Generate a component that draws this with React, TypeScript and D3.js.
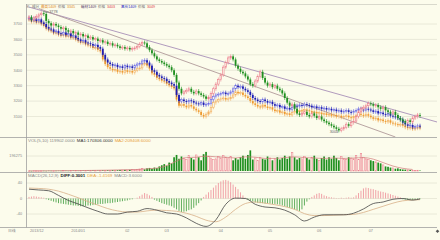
import React from "react";
import * as d3 from "d3";

const N = 160;
const MONTH_TICKS: [number, string][] = [[0, "2013/12"], [20, "2014/01"], [40, "02"], [56, "03"], [78, "04"], [98, "05"], [118, "06"], [139, "07"]];
const PRICE_TICKS = [3700, 3600, 3500, 3400, 3300, 3200, 3100];
const VOL_TICK = 196.275; // thousands
const MACD_TICKS = [40, 0, -40];

// upper series (pink / green candles)
const closeA = [
  3745, 3730, 3740, 3750, 3760, 3770, 3765, 3720, 3705, 3690, 3700,
  3690, 3680, 3670, 3675, 3660, 3650, 3655, 3640, 3645,
  3630, 3635, 3620, 3625, 3610, 3615, 3600, 3605, 3590, 3595,
  3580, 3585, 3570, 3575, 3560, 3565,
  3555, 3545, 3550, 3540, 3545, 3535, 3540, 3545, 3555, 3570,
  3580, 3575, 3550, 3530, 3510, 3490, 3470, 3460, 3450, 3440, 3430, 3420,
  3400, 3370, 3320, 3280, 3250, 3260,
  3270, 3280, 3260, 3250, 3265, 3250, 3240, 3230, 3215, 3225,
  3250, 3280, 3310, 3340, 3370, 3420, 3450, 3480, 3490, 3470,
  3430, 3410, 3390, 3380, 3360, 3340, 3310, 3300, 3330, 3360, 3390, 3350, 3320, 3300,
  3310, 3290, 3300, 3280, 3270, 3250, 3220, 3190, 3170, 3180, 3150, 3120, 3110,
  3120, 3130, 3110, 3100, 3120, 3105, 3090, 3100, 3080, 3070, 3060, 3050,
  3040, 3030, 3020, 3010, 3020, 3030, 3050, 3040, 3060, 3070,
  3100, 3130, 3150, 3160, 3170, 3185, 3180, 3170, 3175, 3160,
  3150, 3160, 3140, 3130, 3120, 3130, 3110, 3090, 3080,
  3070, 3060, 3075, 3065, 3090, 3100, 3110, 3105,
];
// blue series
const closeB = [
  3740, 3725, 3735, 3720, 3730, 3710, 3700,
  3680, 3670, 3665, 3650, 3655, 3640, 3635,
  3645, 3630, 3640, 3620, 3625, 3610,
  3600, 3590, 3595, 3580, 3575, 3570, 3560, 3565, 3550, 3540,
  3500, 3470, 3450,
  3440, 3430, 3435, 3420, 3425, 3415, 3430, 3420, 3425, 3415, 3430, 3440, 3445,
  3460, 3465, 3450, 3430,
  3400, 3390, 3370, 3360, 3350, 3345,
  3330, 3320, 3310, 3300, 3240, 3200,
  3210, 3200, 3195, 3205, 3200, 3190,
  3185, 3180, 3190, 3175, 3180, 3185,
  3210, 3230, 3240, 3245,
  3250, 3255, 3245, 3250, 3260,
  3280, 3300, 3290, 3295, 3280, 3270, 3260,
  3240, 3220, 3210, 3200, 3195,
  3210, 3200, 3190, 3195, 3180, 3170, 3175, 3160, 3165, 3150, 3155, 3145,
  3160, 3170, 3165, 3175, 3170, 3180, 3175, 3170, 3160, 3165, 3155, 3160, 3150, 3155, 3145, 3150,
  3140, 3145, 3135, 3140, 3130, 3135, 3140, 3130, 3125, 3135, 3140, 3150, 3145, 3140, 3150,
  3145, 3140, 3130, 3135, 3120, 3125, 3115, 3110, 3120, 3105, 3100, 3095, 3090,
  3080, 3060, 3050, 3040, 3045, 3030, 3035, 3040, 3035,
];
// orange series
const closeC = [
  3732, 3716, 3726, 3711, 3720, 3701, 3690,
  3671, 3660, 3656, 3641, 3645, 3631, 3625,
  3636, 3620, 3630, 3611, 3615, 3600,
  3590, 3580, 3584, 3568, 3562, 3556, 3545, 3548, 3532, 3522,
  3470, 3440, 3420,
  3410, 3400, 3405, 3390, 3395, 3385, 3400, 3390, 3395, 3385, 3400, 3410, 3415,
  3440, 3445, 3430, 3410,
  3380, 3370, 3350, 3342, 3332, 3328,
  3312, 3302, 3292, 3282, 3210, 3170,
  3180, 3170, 3160, 3175, 3165, 3150,
  3140, 3130, 3110, 3100, 3115, 3130,
  3160, 3190, 3200, 3210,
  3215, 3220, 3210, 3215, 3225,
  3240, 3260, 3250, 3255, 3240, 3230, 3220,
  3200, 3185, 3175, 3165, 3160,
  3175, 3165, 3155, 3160, 3145, 3135, 3140, 3125, 3130, 3115, 3120, 3110,
  3125, 3135, 3130, 3140, 3135, 3145, 3140, 3135, 3125, 3130, 3120, 3125, 3115, 3120, 3110, 3115,
  3105, 3110, 3100, 3105, 3095, 3100, 3105, 3095, 3090, 3100, 3105, 3115, 3110, 3105, 3115,
  3105, 3095, 3085, 3090, 3075, 3080, 3070, 3065, 3075, 3060, 3055, 3050, 3045,
  3050, 3040, 3030, 3025, 3030, 3020, 3025, 3030, 3025,
];
// volume in thousands
const volume = [
  2, 1, 3, 2, 1, 2, 3, 2, 4, 3, 2, 3, 4, 3, 5, 4, 3, 4, 5, 6, 4, 5, 6, 5, 7, 6, 8, 7, 6, 8,
  9, 8, 10, 9, 12, 10, 11, 14, 12, 15, 13, 16, 18, 15, 20,
  25, 30, 22, 35, 40, 30, 45, 38,
  60, 75, 90, 70, 110, 100,
  180, 210, 160, 190, 170, 150,
  200, 170, 150, 210, 180, 140, 220, 250, 190,
  170, 150, 160, 190, 170, 200, 180,
  160, 190, 140, 170, 150, 180, 200, 160, 210, 270,
  150, 170, 140, 180, 160, 150, 190, 170, 140, 160,
  180, 150, 170, 200, 160, 190, 240, 180, 150, 170,
  160, 190, 170, 150, 180, 200, 160, 140, 170, 190,
  150, 180, 160, 200, 170, 140, 190, 160, 150, 180,
  170, 160, 200, 150, 230, 180, 160, 150, 140, 130,
  120, 110, 100, 80, 60, 55, 45, 40,
  30, 35, 25, 20, 18, 15, 12, 10, 8, 10, 6,
];
// volume moving average, one value every 4 sessions
const volMA = [
  2, 3, 3, 4, 5, 6, 7, 9, 11, 14, 17,
  20, 28, 38, 70, 130, 175, 180, 195, 185, 180,
  170, 185, 180, 165, 165, 175, 185, 175, 170, 165,
  170, 165, 170, 175, 155, 110, 65, 35, 20,
];
// MACD lines, one value every 4 sessions (last = final session)
const diff = [
  24, 22, 20, 8, -5, -14, -24, -33, -40, -40,
  -35, -33, -26, -30, -37, -40, -50, -64, -72, -55,
  -15, 1, 0, -15, -22, -24, -30, -42, -58, -48,
  -42, -42, -42, -38, -27, -13, -9, -2, 0, -4, -1,
];
const dea = [
  27, 26, 24, 19, 11, 2, -8, -17, -26, -32,
  -35, -35, -32, -30, -31, -33, -38, -46, -56, -60,
  -48, -28, -13, -9, -12, -16, -21, -28, -39, -44,
  -44, -43, -42, -41, -36, -28, -20, -12, -6, -4, -3,
];
const macdHist = [
  4, 5, 6, 5, 4, 3, 2,
  -2, -4, -6, -8, -10, -12, -13, -14, -15, -16, -17, -18, -18, -19, -20, -20, -19, -18, -18, -17,
  -16, -15, -14, -14, -13, -12, -12, -11, -10, -9, -8, -7, -6, -5,
  -3, -2, 0, 2,
  6, 10, 14, 12, 8, 4,
  -3, -6, -9, -12, -14, -16, -18, -20, -24, -28, -32, -35, -34, -33, -30, -28, -24, -18, -12, -5,
  4, 10, 16, 22, 28, 34, 40, 44, 47, 48, 46, 42, 36, 30, 24, 16, 8, 2,
  -3, -6, -8, -10, -11, -12, -12, -13, -12, -13, -14, -14, -15, -16, -18, -20, -22, -24, -26, -28, -30, -32, -28,
  -18, -8, -2,
  4, 8, 12, 14, 12, 8, 6, 4, 3, 2, 1,
  1, 2, 1, 2, 3, 2, 3,
  8, 14, 20, 26, 28, 27, 25, 24, 22, 20, 18, 17, 15, 13, 11, 9, 7, 5, 3,
  -2, -3, -4, -3, -4, -3, -2, -2,
];
// trend lines: [session index, price]
const trendUpper: [number, number][] = [[0, 3810], [166, 3064]];
const trendLower: [number, number][] = [[4, 3800], [149, 2967]];
const HIGH_MARK = { i: 6, price: 3778, label: "3778" };
const LOW_MARK = { i: 124, price: 3004, label: "3004" };

const BG = "#fcfcec";
const GRID = "#e4e4d4";
const AXIS = "#a0a0a0";
const TXT = "#8a8a8a";
const FONT = "'Liberation Sans', 'Noto Sans CJK SC', sans-serif";

export default function App() {
  const x = d3.scaleLinear().domain([0, N - 1]).range([29, 420]);
  const yP = d3.scaleLinear().domain([3100, 3700]).range([116.5, 24]);
  const yV = d3.scaleLinear().domain([0, VOL_TICK]).range([171, 156]);
  const yM = d3.scaleLinear().domain([-40, 40]).range([214, 183]);
  const L = 26, R = 437;

  const candles = (closes: number[], upStroke: string, downFill: string, key: string) =>
    closes.map((c, i) => {
      const o = i > 0 ? closes[i - 1] : c;
      const up = c >= o;
      const top = yP(Math.max(o, c));
      const bot = yP(Math.min(o, c));
      const h = Math.max(0.9, bot - top);
      const cx = x(i);
      return (
        <g key={key + i}>
          <line x1={cx} x2={cx} y1={top - 2} y2={top + h + 2} stroke={up ? upStroke : downFill} strokeWidth={0.6} />
          {up ? (
            <rect x={cx - 0.8} y={top} width={1.6} height={h} fill={BG} stroke={upStroke} strokeWidth={0.6} />
          ) : (
            <rect x={cx - 0.9} y={top} width={1.8} height={h} fill={downFill} />
          )}
        </g>
      );
    });

  const idx4 = (k: number) => Math.min(k * 4, N - 1);
  const maLine = d3.line<number>().x((_, k) => x(idx4(k))).y((d) => yV(d)).curve(d3.curveMonotoneX);
  const mLine = d3.line<number>().x((_, k) => x(idx4(k))).y((d) => yM(d)).curve(d3.curveMonotoneX);

  return (
    <svg width={440} height={240} style={{ position: "absolute", left: 0, top: 0, fontFamily: FONT }}>
      <defs>
        <clipPath id="pp"><rect x={L} y={4} width={R - L} height={133} /></clipPath>
      </defs>
      <rect x={0} y={0} width={440} height={240} fill={BG} />

      {/* grids */}
      {PRICE_TICKS.map((t) => (
        <g key={"pt" + t}>
          <line x1={L} x2={R} y1={yP(t)} y2={yP(t)} stroke={GRID} strokeWidth={0.8} />
          <text x={22} y={yP(t) + 1.3} fontSize={3.8} fill={TXT} textAnchor="end">{t}</text>
        </g>
      ))}
      <line x1={L} x2={R} y1={yV(VOL_TICK)} y2={yV(VOL_TICK)} stroke={GRID} strokeWidth={0.8} />
      <text x={22} y={yV(VOL_TICK) + 1.3} fontSize={3.8} fill={TXT} textAnchor="end">{Math.round(VOL_TICK * 1000)}</text>
      {MACD_TICKS.map((t) => (
        <g key={"mt" + t}>
          <line x1={L} x2={R} y1={yM(t)} y2={yM(t)} stroke={GRID} strokeWidth={0.8} />
          <text x={22} y={yM(t) + 1.3} fontSize={3.8} fill={TXT} textAnchor="end">{t}</text>
        </g>
      ))}

      {/* frame */}
      <line x1={L} x2={R} y1={4.5} y2={4.5} stroke="#cfcfc4" strokeWidth={0.8} />
      <line x1={0} x2={R} y1={137.5} y2={137.5} stroke={AXIS} strokeWidth={0.8} />
      <line x1={0} x2={R} y1={172.5} y2={172.5} stroke={AXIS} strokeWidth={0.8} />
      <line x1={0} x2={R} y1={227.5} y2={227.5} stroke={AXIS} strokeWidth={0.8} />
      <line x1={L + 0.5} x2={L + 0.5} y1={4} y2={227.5} stroke={AXIS} strokeWidth={0.8} />

      {/* trend lines and candles */}
      <g clipPath="url(#pp)">
        <line x1={x(trendUpper[0][0])} y1={yP(trendUpper[0][1])} x2={x(trendUpper[1][0])} y2={yP(trendUpper[1][1])} stroke="#a890b8" strokeWidth={0.9} />
        <line x1={x(trendLower[0][0])} y1={yP(trendLower[0][1])} x2={x(trendLower[1][0])} y2={yP(trendLower[1][1])} stroke="#b09a9a" strokeWidth={0.9} />
        {candles(closeC, "#f2b060", "#ee9a30", "c")}
        {candles(closeB, "#6a6ae6", "#1c1cb4", "b")}
        {candles(closeA, "#ec7c8c", "#1f8f1f", "a")}
      </g>

      {/* marks */}
      <line x1={x(HIGH_MARK.i) + 0.5} x2={x(HIGH_MARK.i) + 5} y1={yP(HIGH_MARK.price)} y2={yP(HIGH_MARK.price)} stroke="#777" strokeWidth={0.5} />
      <text x={x(HIGH_MARK.i) + 5.5} y={yP(HIGH_MARK.price) + 1.3} fontSize={3.8} fill="#666">{HIGH_MARK.label}</text>
      <text x={x(LOW_MARK.i)} y={yP(LOW_MARK.price) + 2} fontSize={3.8} fill="#666" textAnchor="middle">{LOW_MARK.label}</text>

      {/* header */}
      <text y={7.6} fontSize={3.6} fill="#666">
        <tspan x={27}>K</tspan>
        <tspan x={32}>成分</tspan>
        <tspan x={41} fill="#e08a20">最高1409</tspan>
        <tspan x={58}>价格</tspan>
        <tspan x={67} fill="#e08a20">3345</tspan>
        <tspan x={81} fill="#503060">碳材1409</tspan>
        <tspan x={98}>价格</tspan>
        <tspan x={107} fill="#e04040">3403</tspan>
        <tspan x={121} fill="#2020c0">黑炭1409</tspan>
        <tspan x={138}>价格</tspan>
        <tspan x={147} fill="#e04040">3049</tspan>
      </text>

      {/* volume */}
      {volume.map((v, i) => {
        const up = i === 0 || closeA[i] >= closeA[i - 1];
        const top = yV(v);
        const h = Math.max(0.4, yV(0) - top);
        return up ? (
          <rect key={"v" + i} x={x(i) - 0.75} y={top} width={1.5} height={h} fill={BG} stroke="#ec8090" strokeWidth={0.55} />
        ) : (
          <rect key={"v" + i} x={x(i) - 0.85} y={top} width={1.7} height={h} fill="#1f8f1f" />
        );
      })}
      <path d={maLine(volMA) || ""} fill="none" stroke="#d07a7a" strokeWidth={0.7} />
      <text y={141.8} fontSize={4.4} fill="#888">
        <tspan x={28}>VOL(5,10) 119902.0000</tspan>
        <tspan dx={2} fill="#333">MA1:170306.0000</tspan>
        <tspan dx={2} fill="#e8a040">MA2:209408.6000</tspan>
      </text>

      {/* macd */}
      {macdHist.map((v, i) => (
        <line key={"h" + i} x1={x(i)} x2={x(i)} y1={yM(0)} y2={yM(v)} stroke={v >= 0 ? "#ee8a96" : "#3a9a3a"} strokeWidth={0.8} />
      ))}
      <path d={mLine(dea) || ""} fill="none" stroke="#d8b088" strokeWidth={0.8} />
      <path d={mLine(diff) || ""} fill="none" stroke="#444" strokeWidth={0.8} />
      <text y={177.4} fontSize={4.4} fill="#888">
        <tspan x={28}>MACD(26,12,9)</tspan>
        <tspan dx={2} fill="#222" fontWeight="bold">DIFF:0.3001</tspan>
        <tspan dx={2} fill="#e8a040">DEA:-1.4169</tspan>
        <tspan dx={2} fill="#888">MACD:3.6000</tspan>
      </text>

      {/* x axis */}
      <text x={8} y={232} fontSize={3.8} fill={TXT}>日线</text>
      {MONTH_TICKS.map(([i, lab]) => (
        <text key={"x" + i} x={x(i) + (i === 0 ? 1 : 0)} y={232} fontSize={3.8} fill={TXT} textAnchor={i === 0 ? "start" : "middle"}>{lab}</text>
      ))}
      <path d="M437.5,229.5 L439.3,231.3 L437.5,233.1 L435.7,231.3 Z" fill="#555" />
    </svg>
  );
}
